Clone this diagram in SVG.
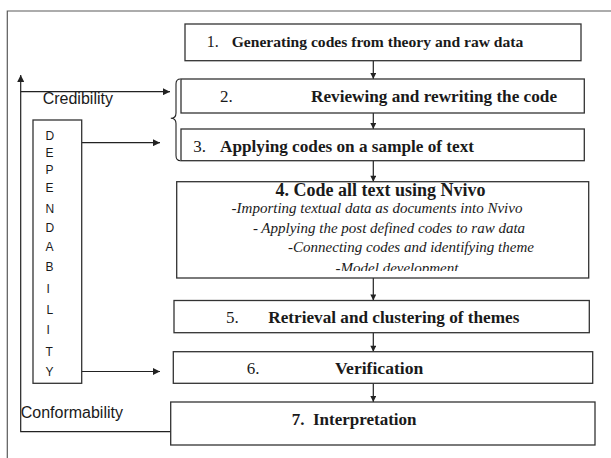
<svg xmlns="http://www.w3.org/2000/svg" width="611" height="458" viewBox="0 0 611 458">
  <style>
    .box { fill: #ffffff; stroke: #333333; stroke-width: 1.3; }
    .frame { fill: none; stroke: #5a5a5a; stroke-width: 1.2; }
    .line { fill: none; stroke: #222222; stroke-width: 1.2; }
    .brace { fill: none; stroke: #222222; stroke-width: 1.1; }
    .num { font-family: "Liberation Serif", "Times New Roman", serif; fill: #1a1a1a; }
    .bold { font-family: "Liberation Serif", "Times New Roman", serif; font-weight: bold; fill: #1a1a1a; }
    .ital { font-family: "Liberation Serif", "Times New Roman", serif; font-style: italic; fill: #1a1a1a; font-size: 15px; }
    .sans { font-family: "Liberation Sans", Arial, sans-serif; fill: #1a1a1a; }
  </style>
  <defs>
    <marker id="arrow" viewBox="0 0 10 10" refX="10" refY="5" markerWidth="9" markerHeight="7" markerUnits="userSpaceOnUse" orient="auto">
      <path d="M0,0 L10,5 L0,10 z" fill="#222222"/>
    </marker>
    <marker id="arrowSmall" viewBox="0 0 10 10" refX="10" refY="5" markerWidth="7" markerHeight="6" markerUnits="userSpaceOnUse" orient="auto">
      <path d="M0,0 L10,5 L0,10 z" fill="#222222"/>
    </marker>
    <clipPath id="clipStep4">
      <rect x="177" y="182" width="411" height="89"/>
    </clipPath>
  </defs>

  <!-- outer frame -->
  <path class="frame" d="M7.3,458 V11 H611"/>

  <!-- connectors -->
  <g id="connectors">
    <line class="line" x1="373.3" y1="60.7" x2="373.3" y2="79" marker-end="url(#arrowSmall)"/>
    <line class="line" x1="373.3" y1="113" x2="373.3" y2="129" marker-end="url(#arrowSmall)"/>
    <line class="line" x1="373.3" y1="160.7" x2="373.3" y2="181.7" marker-end="url(#arrowSmall)"/>
    <line class="line" x1="373.3" y1="278" x2="373.3" y2="300.5" marker-end="url(#arrowSmall)"/>
    <line class="line" x1="373.3" y1="332.7" x2="373.3" y2="351.7" marker-end="url(#arrowSmall)"/>
    <line class="line" x1="373.3" y1="383.3" x2="373.3" y2="402" marker-end="url(#arrowSmall)"/>
    <!-- feedback loop from interpretation back up -->
    <path class="line" d="M171,431.7 H20.7 V75" marker-end="url(#arrow)"/>
    <line class="line" x1="20.7" y1="91.7" x2="170" y2="91.7" marker-end="url(#arrow)"/>
    <line class="line" x1="81.7" y1="142.7" x2="160" y2="142.7" marker-end="url(#arrow)"/>
    <line class="line" x1="81.7" y1="371.5" x2="160" y2="371.5" marker-end="url(#arrow)"/>
    <!-- brace grouping steps 2 and 3 -->
    <path class="brace" d="M180.5,79 Q176,79 176,84 L176,113 Q176,118.3 170.8,118.3 Q176,118.3 176,123.6 L176,155.5 Q176,160.7 180.5,160.7"/>
  </g>

  <g id="label-credibility">
    <text class="sans" x="42.7" y="104" font-size="16">Credibility</text>
  </g>
  <g id="label-conformability">
    <text class="sans" x="20.7" y="418.3" font-size="16">Conformability</text>
  </g>

  <g id="dependability">
    <rect class="box" x="33" y="120" width="48.7" height="263.3"/>
    <g class="sans" font-size="12">
      <text x="45.5" y="140">D</text>
      <text x="45.5" y="157.3">E</text>
      <text x="45.5" y="174.3">P</text>
      <text x="45.5" y="192.3">E</text>
      <text x="45.5" y="212.7">N</text>
      <text x="45.5" y="231.7">D</text>
      <text x="45.5" y="250.7">A</text>
      <text x="45.5" y="270.7">B</text>
      <text x="46.5" y="292.7">I</text>
      <text x="46.5" y="314">L</text>
      <text x="46.5" y="334.3">I</text>
      <text x="45.5" y="356">T</text>
      <text x="45.5" y="376">Y</text>
    </g>
  </g>

  <g id="step1">
    <rect class="box" x="185" y="24" width="396" height="36.7"/>
    <text class="num" x="206.7" y="46.7" font-size="16">1.</text>
    <text class="bold" x="231.7" y="46.7" font-size="15.6">Generating codes from theory and raw data</text>
  </g>

  <g id="step2">
    <rect class="box" x="181" y="79" width="403.3" height="34"/>
    <text class="num" x="220" y="101.7" font-size="17">2.</text>
    <text class="bold" x="311" y="101.7" font-size="17.2">Reviewing and rewriting the code</text>
  </g>

  <g id="step3">
    <rect class="box" x="181" y="129" width="403.3" height="31.7"/>
    <text class="num" x="193.3" y="151.7" font-size="17">3.</text>
    <text class="bold" x="220" y="151.7" font-size="17.2">Applying codes on a sample of text</text>
  </g>

  <g id="step4">
    <rect class="box" x="176.7" y="181.7" width="412" height="96.3"/>
    <text class="bold" x="380.5" y="196" font-size="18" text-anchor="middle">4. Code all text using Nvivo</text>
    <g clip-path="url(#clipStep4)">
      <text class="ital" x="377" y="213.3" text-anchor="middle">-Importing textual data as documents into Nvivo</text>
      <text class="ital" x="389" y="232.7" text-anchor="middle">- Applying the post defined codes to raw data</text>
      <text class="ital" x="411" y="251.7" text-anchor="middle">-Connecting codes and identifying theme</text>
      <text class="ital" x="397" y="272.5" text-anchor="middle">-Model development</text>
    </g>
  </g>

  <g id="step5">
    <rect class="box" x="174" y="300.5" width="415.3" height="32.2"/>
    <text class="num" x="226" y="323.3" font-size="17">5.</text>
    <text class="bold" x="268.3" y="323.3" font-size="17.2">Retrieval and clustering of themes</text>
  </g>

  <g id="step6">
    <rect class="box" x="173.3" y="351.7" width="419.4" height="31.6"/>
    <text class="num" x="246.7" y="374.3" font-size="17">6.</text>
    <text class="bold" x="335" y="374.3" font-size="17.6">Verification</text>
  </g>

  <g id="step7">
    <rect class="box" x="170.7" y="402" width="424.3" height="43"/>
    <text class="bold" x="291.7" y="425" font-size="17" xml:space="preserve">7.  Interpretation</text>
  </g>
</svg>
